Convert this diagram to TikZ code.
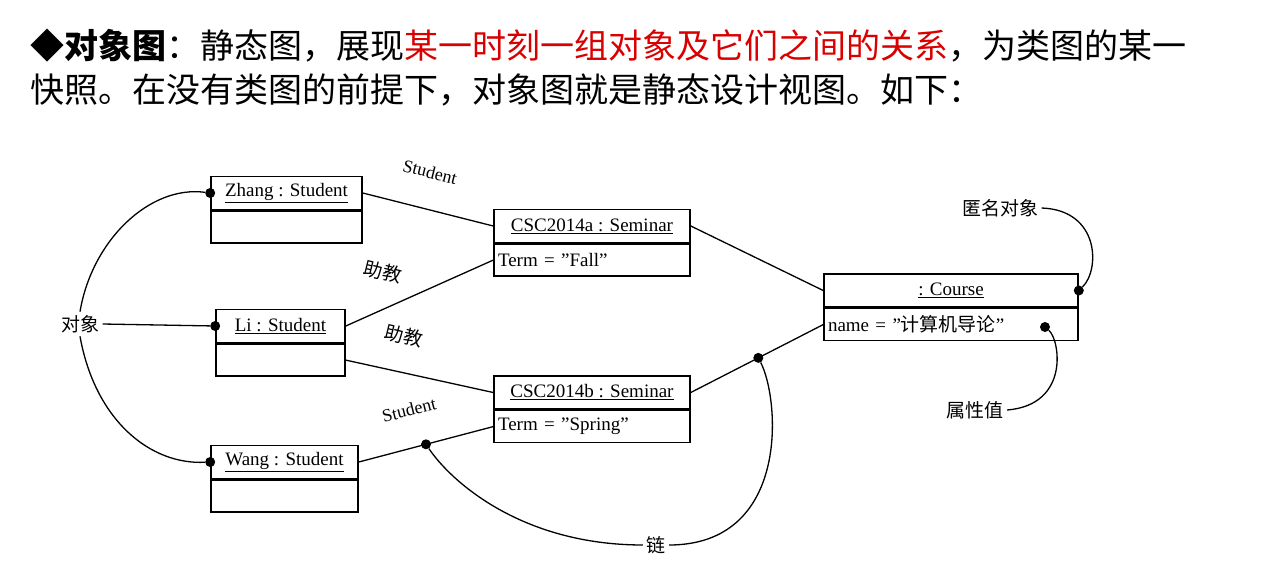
\documentclass[tikz,border=0pt]{standalone}
\usepackage{fontspec}
\setmainfont{Liberation Serif}[Ligatures=ResetAll]
\newfontfamily\cjk{Noto Sans CJK SC}
\usetikzlibrary{positioning}

\begin{document}
\begin{tikzpicture}[
  x=1pt, y=-1pt,
  obj/.style={draw, line width=1.6pt, minimum height=33pt, inner sep=2pt, font=\fontsize{19}{21}\selectfont},
  attr/.style={draw, line width=1.6pt, minimum height=32pt, inner sep=3pt, anchor=north, font=\fontsize{19}{21}\selectfont},
  lnk/.style={line width=1.3pt},
  note/.style={font=\cjk\fontsize{19}{21}\selectfont},
  role/.style={font=\fontsize{18}{20}\selectfont, inner sep=1pt},
  dot/.style={circle, fill, inner sep=0pt, minimum size=10pt}
]
\useasboundingbox (0,0) rectangle (1274,578);
\fill[white] (0,0) rectangle (1274,578);

% heading
\node[anchor=west, font=\cjk\fontsize{34}{38}\selectfont, inner sep=0pt] (head1) at (30,46)
  {\textbf{◆对象图}：静态图，展现\textcolor{red!85!black}{某一时刻一组对象及它们之间的关系}，为类图的某一};
\node[anchor=west, font=\cjk\fontsize{34}{38}\selectfont, inner sep=0pt] (head2) at (30,90)
  {快照。在没有类图的前提下，对象图就是静态设计视图。如下：};

% objects
\node[obj, minimum width=151pt] (zhang) at (286.5,193) {\underline{Zhang : Student}};
\node[attr, minimum width=151pt] (zhangA) at (zhang.south) {};
\node[obj, minimum width=129pt] (li) at (280.5,326) {\underline{Li : Student}};
\node[attr, minimum width=129pt] (liA) at (li.south) {};
\node[obj, minimum width=147pt] (wang) at (284.5,462) {\underline{Wang : Student}};
\node[attr, minimum width=147pt] (wangA) at (wang.south) {};
\node[obj, minimum width=196pt] (semA) at (592,226) {\underline{CSC2014a : Seminar}};
\node[attr, minimum width=196pt, text width=188pt] (semAA) at (semA.south) {Term = "Fall"};
\node[obj, minimum width=196pt] (semB) at (592,392.5) {\underline{CSC2014b : Seminar}};
\node[attr, minimum width=196pt, text width=188pt] (semBA) at (semB.south) {Term = "Spring"};
\node[obj, minimum width=254pt] (course) at (951,290.5) {\underline{: Course}};
\node[attr, minimum width=254pt, text width=246pt] (courseA) at (course.south) {name = "{\cjk 计算机导论}"};

% links
\draw[lnk] (zhang.east) -- (semA.west);
\draw[lnk] (li.east) -- (semAA.west);
\draw[lnk] (liA.east) -- (semB.west);
\draw[lnk] (wang.east) -- coordinate[pos=0.5] (wlink) (semBA.west);
\draw[lnk] (semA.east) -- (course.west);
\draw[lnk] (semB.east) -- coordinate[pos=0.51] (clink) (courseA.west);

% role names
\node[role, rotate=-14] (r1) at (430,172) {Student};
\node[note, rotate=-14, inner sep=1pt] (r2) at (383,272) {助教};
\node[note, rotate=-14, inner sep=1pt] (r3) at (404,336) {助教};
\node[role, rotate=14] (r4) at (409,410) {Student};

% callouts
\node[note] (objnote) at (80,324) {对象};
\node[note] (anon) at (1000,208) {匿名对象};
\node[note] (attrnote) at (975,410) {属性值};
\node[note] (linknote) at (656,545) {链};
\node[dot] (dz) at (zhang.west) {};
\node[dot] (dl) at (li.west) {};
\node[dot] (dw) at (wang.west) {};
\node[dot] (da) at (course.east) {};
\node[dot] (dv) at (1045,327) {};
\node[dot] (dwl) at (wlink) {};
\node[dot] (dcl) at (clink) {};
\draw[lnk] (objnote.east) -- (dl);
\draw[lnk] (objnote.north) .. controls (92,240) and (150,185) .. (dz);
\draw[lnk] (objnote.south) .. controls (95,420) and (150,465) .. (dw);
\draw[lnk] (anon.east) .. controls (1100,210) and (1100,270) .. (da);
\draw[lnk] (attrnote.east) .. controls (1070,405) and (1060,340) .. (dv);
\draw[lnk] (linknote.west) .. controls (520,545) and (450,480) .. (dwl);
\draw[lnk] (linknote.east) .. controls (790,545) and (780,400) .. (dcl);
\end{tikzpicture}
\end{document}
